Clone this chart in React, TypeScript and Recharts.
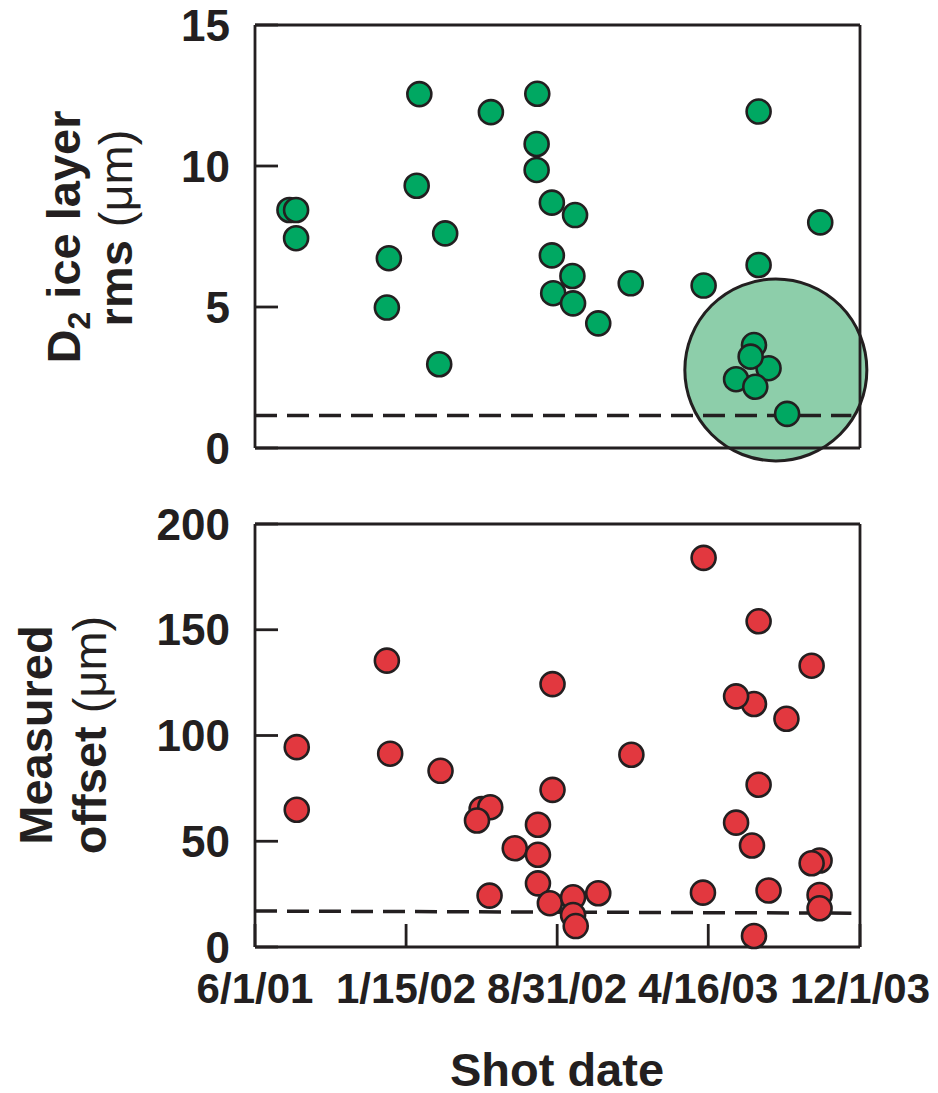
import React from "react";
import { ScatterChart, Scatter, XAxis, YAxis, ReferenceLine, ReferenceDot } from "recharts";

// x values are days since 6/1/01
const xTicks = [0, 228, 456, 684, 913];
const xTickLabels = ["6/1/01", "1/15/02", "8/31/02", "4/16/03", "12/1/03"];
const rmsTicks = [0, 5, 10, 15];
const offsetTicks = [0, 50, 100, 150, 200];

const rmsDays = [52, 62, 62, 248, 356, 426, 425, 425, 244, 287, 202, 199, 278, 448, 448, 450, 483, 479, 480, 518, 567, 677, 760, 760, 853, 753, 775, 726, 748, 755, 803];
const rmsValues = [8.44, 8.44, 7.44, 12.55, 11.91, 12.56, 10.78, 9.86, 9.3, 7.61, 6.73, 4.98, 2.97, 8.7, 6.83, 5.49, 8.26, 6.1, 5.13, 4.42, 5.84, 5.76, 11.93, 6.49, 8.0, 3.65, 2.83, 2.44, 3.24, 2.17, 1.21];

const offsetDays = [63, 63, 199, 204, 280, 342, 355, 335, 354, 392, 427, 427, 427, 445, 449, 449, 480, 518, 480, 484, 568, 676, 677, 753, 726, 760, 760, 726, 750, 753, 775, 802, 840, 852, 840, 852, 852];
const offsetValues = [94.5, 64.9, 135.4, 91.4, 83.3, 65.2, 66.1, 59.8, 24.3, 46.7, 57.8, 43.6, 30.1, 20.7, 124.3, 74.3, 23.5, 25.4, 15.1, 9.9, 90.9, 25.7, 184, 114.9, 118.5, 154, 76.7, 58.8, 48, 5.2, 26.7, 107.9, 133, 40.9, 39.6, 24.6, 18.3];

const rmsLimit = 1.15;
const offsetLimitStart = 17;
const offsetLimitEnd = 16;
const limitEndDay = 900;
const highlight = { day: 786, rms: 2.77 };

const rmsData = rmsDays.map((x, i) => ({ x, y: rmsValues[i] }));
const offsetData = offsetDays.map((x, i) => ({ x, y: offsetValues[i] }));

const ink = "#231f20";
const font = "'Liberation Sans', Arial, Helvetica, sans-serif";
const axisStyle = { stroke: ink, strokeWidth: 2.8 };

const dot = (fill: string) => (p: any) => (
  <circle cx={p.cx} cy={p.cy} r={12} fill={fill} stroke={ink} strokeWidth={2.6} />
);

const yTick = { fontSize: 44, fontWeight: 700, fill: ink, fontFamily: font };
const xTick = { fontSize: 42, fontWeight: 700, fill: ink, fontFamily: font };

export default function App() {
  return (
    <div style={{ position: "absolute", left: 0, top: 0, width: 938, height: 1093, background: "#fff" }}>
      <div style={{ position: "absolute", left: 0, top: 0 }}>
        <ScatterChart width={938} height={480} margin={{ top: 15, right: 68, bottom: 22, left: 245 }}>
          <XAxis xAxisId="b" type="number" dataKey="x" domain={[0, 913]} ticks={xTicks} interval={0}
            tick={false} tickSize={-23} height={10} axisLine={axisStyle} tickLine={axisStyle} />
          <XAxis xAxisId="t" orientation="top" type="number" dataKey="x" domain={[0, 913]} ticks={xTicks} interval={0}
            tick={false} tickSize={-23} height={10} axisLine={axisStyle} tickLine={axisStyle} />
          <YAxis yAxisId="l" type="number" dataKey="y" domain={[0, 15]} ticks={rmsTicks} interval={0}
            tick={yTick} tickSize={-23} tickMargin={48} width={10} axisLine={axisStyle} tickLine={axisStyle} />
          <YAxis yAxisId="r" orientation="right" type="number" dataKey="y" domain={[0, 15]} ticks={rmsTicks} interval={0}
            tick={false} tickSize={-23} width={10} axisLine={axisStyle} tickLine={axisStyle} />
          <ReferenceDot xAxisId="b" yAxisId="l" x={highlight.day} y={highlight.rms} r={91} zIndex={50}
            fill="#8dceaa" stroke={ink} strokeWidth={3} ifOverflow="visible" />
          <ReferenceLine xAxisId="b" yAxisId="l" segment={[{ x: 0, y: rmsLimit }, { x: limitEndDay, y: rmsLimit }]}
            zIndex={60} stroke={ink} strokeWidth={3.5} strokeDasharray="22 10" ifOverflow="visible" />
          <Scatter xAxisId="b" yAxisId="l" data={rmsData} shape={dot("#00a862")} zIndex={600} isAnimationActive={false} />
        </ScatterChart>
      </div>
      <div style={{ position: "absolute", left: 0, top: 480 }}>
        <ScatterChart width={938} height={613} margin={{ top: 34, right: 68, bottom: 136, left: 245 }}>
          <XAxis xAxisId="b" type="number" dataKey="x" domain={[0, 913]} ticks={xTicks} interval={0}
            tickFormatter={(v: number, i: number) => xTickLabels[i]}
            tick={xTick} tickSize={-23} tickMargin={49} height={10} axisLine={axisStyle} tickLine={axisStyle} />
          <XAxis xAxisId="t" orientation="top" type="number" dataKey="x" domain={[0, 913]} ticks={xTicks} interval={0}
            tick={false} tickSize={-23} height={10} axisLine={axisStyle} tickLine={axisStyle} />
          <YAxis yAxisId="l" type="number" dataKey="y" domain={[0, 200]} ticks={offsetTicks} interval={0}
            tick={yTick} tickSize={-23} tickMargin={48} width={10} axisLine={axisStyle} tickLine={axisStyle} />
          <YAxis yAxisId="r" orientation="right" type="number" dataKey="y" domain={[0, 200]} ticks={offsetTicks} interval={0}
            tick={false} tickSize={-23} width={10} axisLine={axisStyle} tickLine={axisStyle} />
          <ReferenceLine xAxisId="b" yAxisId="l"
            segment={[{ x: 0, y: offsetLimitStart }, { x: limitEndDay, y: offsetLimitEnd }]}
            zIndex={60} stroke={ink} strokeWidth={3.5} strokeDasharray="22 10" ifOverflow="visible" />
          <Scatter xAxisId="b" yAxisId="l" data={offsetData} shape={dot("#e2383f")} zIndex={600} isAnimationActive={false} />
        </ScatterChart>
      </div>
      <svg width={938} height={1093} style={{ position: "absolute", left: 0, top: 0, pointerEvents: "none" }}
        fontFamily={font} fill={ink} fontSize={47} fontWeight={700}>
        <text transform="translate(80,237) rotate(-90)" textAnchor="middle">
          D<tspan fontSize={32} dy={10}>2</tspan><tspan dy={-10}> ice layer</tspan>
        </text>
        <text transform="translate(132,228) rotate(-90)" textAnchor="middle">
          rms <tspan fontWeight={400}>(μm)</tspan>
        </text>
        <text transform="translate(52,735) rotate(-90)" textAnchor="middle">Measured</text>
        <text transform="translate(106,735) rotate(-90)" textAnchor="middle">
          offset <tspan fontWeight={400}>(μm)</tspan>
        </text>
        <text x={557} y={1086} textAnchor="middle">Shot date</text>
      </svg>
    </div>
  );
}
